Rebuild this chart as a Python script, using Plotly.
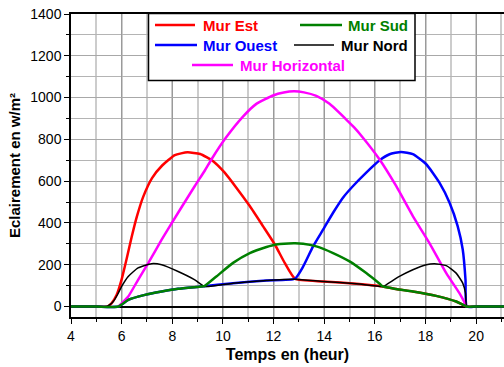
import plotly.graph_objects as go

# Time of day (hours) and irradiance (W/m²) for each wall orientation
t_est = [4, 5, 5.45, 5.6, 5.8, 6.0, 6.2, 6.4, 6.6, 6.85, 7.2, 7.6, 8.1, 8.6, 9.1, 9.6,
         10.07, 10.53, 11.06, 11.58, 12.05, 12.44, 12.85, 13.96, 15.27, 16.3, 16.84,
         17.5, 18.42, 19.21, 19.63, 20, 21.5]
v_est = [0, 0, 0, 15, 55, 130, 230, 335, 430, 525, 615, 675, 725, 738, 730, 697,
         641, 569, 481, 385, 297, 209, 133, 120, 109, 96, 84,
         72, 51, 24, 0, 0, 0]

t_ouest = [4, 5, 5.87, 6.26, 6.92, 7.58, 8.23, 9.15, 10.4, 11.72, 12.84, 13.17, 13.56,
           13.96, 14.35, 14.74, 15.14, 15.66, 16.19, 16.58, 17.04, 17.5, 18.03, 18.55,
           18.95, 19.27, 19.47, 19.58, 19.63, 20, 21.5]
v_ouest = [0, 0, 0, 32, 56, 72, 85, 96, 112, 125, 133, 192, 288,
           369, 449, 521, 577, 641, 700, 729, 740, 729, 681, 593,
           497, 385, 273, 128, 0, 0, 0]

t_sud = [4, 5, 5.87, 6.26, 6.92, 7.58, 8.23, 9.15, 9.27, 9.74, 10.4, 11.06, 11.72,
         12.1, 12.8, 13.17, 13.69, 14.35, 15.0, 15.66, 16.19, 16.32, 16.84, 17.5,
         18.42, 19.21, 19.63, 20, 21.5]
v_sud = [0, 0, 0, 32, 56, 72, 85, 96, 98, 144, 209, 256, 285,
         297, 303, 301, 288, 256, 216, 160, 109, 96, 84, 72,
         51, 24, 0, 0, 0]

t_nord = [4, 5, 5.41, 5.55, 5.67, 5.85, 6.0, 6.26, 6.65, 7.18, 7.58, 8.23, 8.89, 9.28,
          10.4, 11.72, 12.84, 13.96, 15.27, 16.32, 16.45, 16.97, 17.5, 18.03, 18.35,
          18.82, 19.21, 19.47, 19.58, 19.63, 20, 21.5]
v_nord = [0, 0, 0, 10, 24, 60, 96, 144, 185, 205, 200, 168, 128, 96,
          112, 125, 131, 120, 109, 96, 104, 144, 176, 200, 205,
          196, 160, 112, 64, 0, 0, 0]

t_horiz = [5.87, 6.26, 6.65, 7.05, 7.58, 8.23, 8.89, 9.28, 9.55, 10.1, 10.8, 11.32,
           11.98, 12.4, 12.8, 13.2, 13.69, 14.21, 14.87, 15.2, 15.53, 16.18, 16.84,
           17.5, 18.15, 18.82, 19.34, 19.63]
v_horiz = [0, 48, 128, 208, 320, 449, 577, 650, 705, 805, 910, 970,
           1010, 1024, 1030, 1025, 1008, 970, 895, 855, 808, 705, 577,
           433, 305, 160, 64, 0]

x_ticks = [4, 6, 8, 10, 12, 14, 16, 18, 20]
y_ticks = [0, 200, 400, 600, 800, 1000, 1200, 1400]

FONT = "Arial, Liberation Sans, sans-serif"

series = [
    ("Mur Est", t_est, v_est, "#ff0000", 2.5),
    ("Mur Ouest", t_ouest, v_ouest, "#0000ff", 2.5),
    ("Mur Horizontal", t_horiz, v_horiz, "#ff00ff", 2.5),
    ("Mur Nord", t_nord, v_nord, "#000000", 1.5),
    ("Mur Sud", t_sud, v_sud, "#008000", 2.5),
]

fig = go.Figure()
for name, t, v, color, w in series:
    fig.add_trace(go.Scatter(x=t, y=v, mode="lines", name=name,
                             line=dict(color=color, width=w,
                                       shape="spline", smoothing=0.5),
                             showlegend=False))

# Hand-built legend box in plot-area (paper) coordinates
W, H, L, T = 504, 367, 71, 14
PW, PH = W - L, H - T - 50


def px(xp):
    return (xp - L) / PW


def py(yp):
    return (H - 50 - yp) / PH


fig.add_shape(type="rect", xref="paper", yref="paper",
              x0=px(148.5), x1=px(415), y0=py(80.5), y1=py(13.5),
              line=dict(color="black", width=1.5), fillcolor="white", layer="above")

legend_items = [
    ("Mur Est", "#ff0000", 155, 195, 201, 25, 2.5),
    ("Mur Sud", "#008000", 300, 342, 346, 25, 2.5),
    ("Mur Ouest", "#0000ff", 155, 197, 201, 45, 2.5),
    ("Mur Nord", "#000000", 294, 334, 339, 45, 1.5),
    ("Mur Horizontal", "#ff00ff", 192, 233, 238, 65, 2.5),
]
for label, color, lx0, lx1, tx, ly, w in legend_items:
    fig.add_shape(type="line", xref="paper", yref="paper",
                  x0=px(lx0), x1=px(lx1), y0=py(ly), y1=py(ly),
                  line=dict(color=color, width=w), layer="above")
    fig.add_annotation(xref="paper", yref="paper", x=px(tx), y=py(ly),
                       text=f"<b>{label}</b>", showarrow=False,
                       xanchor="left", yanchor="middle",
                       font=dict(family=FONT, size=15, color=color))

fig.update_layout(
    width=W, height=H,
    margin=dict(l=L, r=0, t=T, b=50),
    paper_bgcolor="white", plot_bgcolor="white",
    font=dict(family=FONT, size=14, color="black"),
)

fig.update_xaxes(
    range=[4, 21.1], tickmode="array", tickvals=x_ticks,
    ticks="outside", ticklen=5, tickwidth=1.2, tickcolor="black",
    showline=True, linecolor="black", linewidth=1.5, mirror=True,
    showgrid=True, gridcolor="#9a9a9a", gridwidth=1,
    zeroline=False,
    minor=dict(dtick=1, ticks="outside", ticklen=3, tickcolor="black",
               showgrid=True, gridcolor="#cccccc", gridwidth=1.5),
    title=dict(text="<b>Temps en (heur)</b>", font=dict(size=16), standoff=6),
    tickfont=dict(size=14),
)
fig.update_yaxes(
    range=[-50, 1400], tickmode="array", tickvals=y_ticks,
    ticks="outside", ticklen=5, tickwidth=1.2, tickcolor="black",
    showline=True, linecolor="black", linewidth=1.5, mirror=False,
    showgrid=True, gridcolor="#a8a8a8", gridwidth=1,
    zeroline=True, zerolinecolor="black", zerolinewidth=1.5,
    minor=dict(dtick=100, ticks="outside", ticklen=3, tickcolor="black",
               showgrid=True, gridcolor="#b4b4b4", gridwidth=1),
    title=dict(text="<b>Eclairement en w/m²</b>", font=dict(size=15), standoff=6),
    tickfont=dict(size=14),
)

fig.write_html("out.html")
